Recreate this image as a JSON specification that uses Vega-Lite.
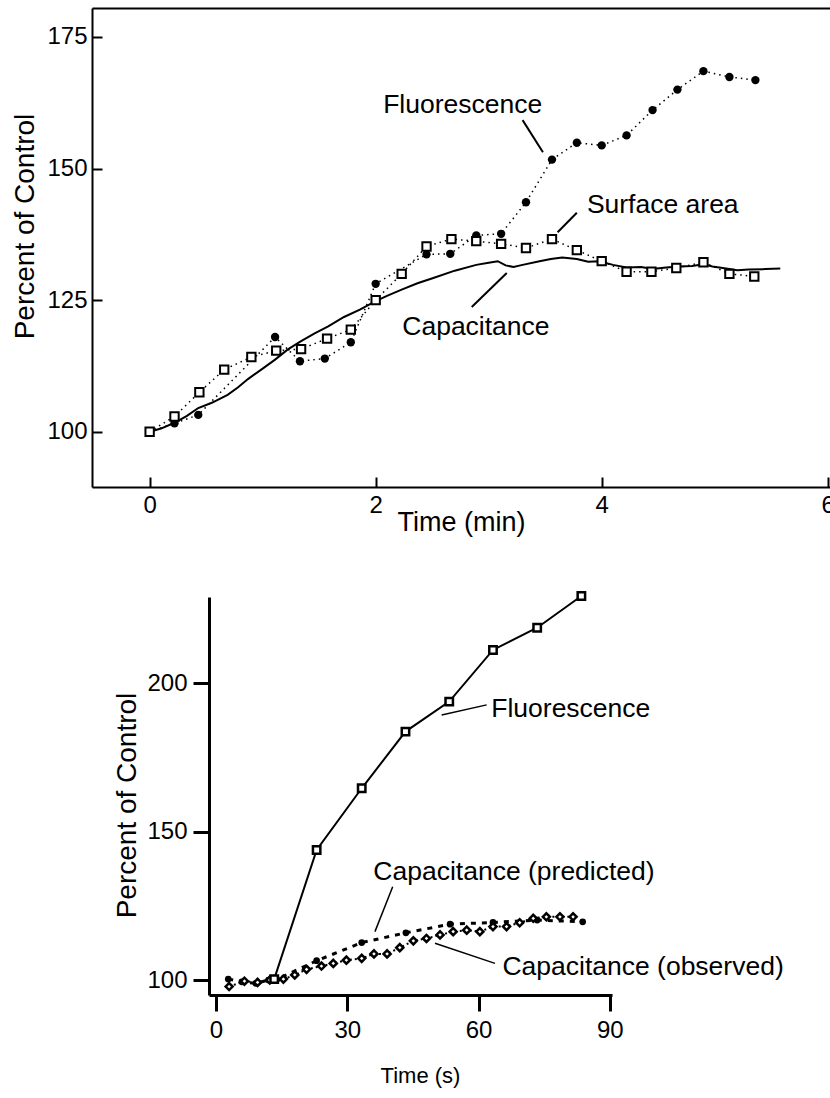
{
  "$schema": "https://vega.github.io/schema/vega-lite/v6.json",
  "width": 830,
  "height": 1098,
  "autosize": "none",
  "padding": 0,
  "background": "white",
  "config": {
    "view": {"stroke": null},
    "font": "Liberation Sans",
    "axis": {
      "grid": false,
      "domainColor": "black",
      "tickColor": "black",
      "labelColor": "black",
      "titleColor": "black",
      "labelFont": "Liberation Sans",
      "titleFont": "Liberation Sans",
      "titleFontWeight": "normal",
      "labelFontSize": 24,
      "labelFlush": false,
      "labelOverlap": false,
      "titleAlign": "center",
      "titleBaseline": "alphabetic"
    },
    "text": {"font": "Liberation Sans", "fontSize": 26.5, "color": "black"}
  },
  "datasets": {
    "topCap": [
      {"t": 0, "v": 100}, {"t": 0.1, "v": 100.6}, {"t": 0.22, "v": 101.7}, {"t": 0.33, "v": 103}, {"t": 0.43, "v": 104.5},
      {"t": 0.55, "v": 105.5}, {"t": 0.69, "v": 107}, {"t": 0.78, "v": 108.4}, {"t": 0.87, "v": 110}, {"t": 1.0, "v": 112},
      {"t": 1.11, "v": 113.7}, {"t": 1.22, "v": 115.6}, {"t": 1.34, "v": 117.2}, {"t": 1.46, "v": 118.7}, {"t": 1.58, "v": 120},
      {"t": 1.72, "v": 121.8}, {"t": 1.86, "v": 123.2}, {"t": 2.0, "v": 124.8}, {"t": 2.1, "v": 125.8}, {"t": 2.23, "v": 127},
      {"t": 2.37, "v": 128.2}, {"t": 2.51, "v": 129.2}, {"t": 2.7, "v": 130.6}, {"t": 2.89, "v": 131.7}, {"t": 3.0, "v": 132.1},
      {"t": 3.08, "v": 132.4}, {"t": 3.15, "v": 131.6}, {"t": 3.22, "v": 131.3}, {"t": 3.3, "v": 131.7}, {"t": 3.45, "v": 132.4},
      {"t": 3.55, "v": 132.8}, {"t": 3.65, "v": 133.1}, {"t": 3.78, "v": 132.8}, {"t": 3.88, "v": 132.3}, {"t": 3.98, "v": 132.4},
      {"t": 4.1, "v": 131.7}, {"t": 4.22, "v": 131.2}, {"t": 4.35, "v": 131.3}, {"t": 4.45, "v": 130.9}, {"t": 4.57, "v": 131.2},
      {"t": 4.69, "v": 131.4}, {"t": 4.8, "v": 131.5}, {"t": 4.9, "v": 131.8}, {"t": 4.98, "v": 131.4}, {"t": 5.1, "v": 131.0},
      {"t": 5.2, "v": 130.7}, {"t": 5.3, "v": 130.8}, {"t": 5.45, "v": 130.9}, {"t": 5.58, "v": 131.0}
    ],
    "topSurf": [
      {"t": 0, "v": 100}, {"t": 0.22, "v": 102.9}, {"t": 0.44, "v": 107.5}, {"t": 0.66, "v": 111.8}, {"t": 0.9, "v": 114.2},
      {"t": 1.12, "v": 115.4}, {"t": 1.34, "v": 115.7}, {"t": 1.57, "v": 117.7}, {"t": 1.78, "v": 119.4}, {"t": 2.0, "v": 125},
      {"t": 2.23, "v": 130}, {"t": 2.45, "v": 135.2}, {"t": 2.67, "v": 136.6}, {"t": 2.89, "v": 136.2}, {"t": 3.11, "v": 135.7},
      {"t": 3.33, "v": 134.9}, {"t": 3.56, "v": 136.6}, {"t": 3.78, "v": 134.5}, {"t": 4.0, "v": 132.4}, {"t": 4.22, "v": 130.4},
      {"t": 4.44, "v": 130.4}, {"t": 4.66, "v": 131.1}, {"t": 4.9, "v": 132.2}, {"t": 5.13, "v": 130.0}, {"t": 5.35, "v": 129.5}
    ],
    "topFluor": [
      {"t": 0, "v": 100}, {"t": 0.22, "v": 101.6}, {"t": 0.43, "v": 103.2}, {"t": 1.11, "v": 118}, {"t": 1.33, "v": 113.4},
      {"t": 1.55, "v": 113.9}, {"t": 1.78, "v": 117}, {"t": 2.0, "v": 128.1}, {"t": 2.45, "v": 133.7}, {"t": 2.66, "v": 133.8},
      {"t": 2.89, "v": 137.3}, {"t": 3.11, "v": 137.6}, {"t": 3.33, "v": 143.6}, {"t": 3.56, "v": 151.7}, {"t": 3.78, "v": 154.9},
      {"t": 4.0, "v": 154.4}, {"t": 4.22, "v": 156.3}, {"t": 4.45, "v": 161.1}, {"t": 4.67, "v": 165.0}, {"t": 4.9, "v": 168.5},
      {"t": 5.13, "v": 167.4}, {"t": 5.36, "v": 166.8}
    ],
    "topLabels": [
      {"label": "Fluorescence", "t": 2.77, "v": 160.55},
      {"label": "Surface area", "t": 4.54, "v": 141.5},
      {"label": "Capacitance", "t": 2.887, "v": 118.4}
    ],
    "topLeaders": [
      {"t": 3.30, "v": 159.2, "t2": 3.48, "v2": 153.1},
      {"t": 3.78, "v": 141.6, "t2": 3.61, "v2": 137.9},
      {"t": 3.16, "v": 130.15, "t2": 2.85, "v2": 123.7}
    ],
    "botFluor": [
      {"t": 13.3, "v": 100.3}, {"t": 23.0, "v": 143.8}, {"t": 33.3, "v": 164.6}, {"t": 43.3, "v": 183.7},
      {"t": 53.3, "v": 193.8}, {"t": 63.3, "v": 211.2}, {"t": 73.4, "v": 218.7}, {"t": 83.5, "v": 229.4}
    ],
    "botPred": [
      {"t": 2.8, "v": 100.3}, {"t": 5.9, "v": 99.4}, {"t": 9.1, "v": 98.9}, {"t": 12.0, "v": 100}, {"t": 13.9, "v": 100.2},
      {"t": 23.0, "v": 106.5}, {"t": 33.3, "v": 112.6}, {"t": 43.4, "v": 115.9}, {"t": 53.5, "v": 118.8},
      {"t": 63.3, "v": 119.4}, {"t": 73.4, "v": 120.2}, {"t": 83.8, "v": 119.6}
    ],
    "botObs": [
      {"t": 3.0, "v": 97.8}, {"t": 6.5, "v": 99.6}, {"t": 9.5, "v": 99.2}, {"t": 12.3, "v": 100}, {"t": 15.4, "v": 100.3},
      {"t": 18.0, "v": 101.7}, {"t": 20.7, "v": 103.6}, {"t": 24.1, "v": 104.7}, {"t": 26.8, "v": 105.6}, {"t": 29.8, "v": 106.7},
      {"t": 33.3, "v": 107.3}, {"t": 36.1, "v": 108.8}, {"t": 39.1, "v": 108.8}, {"t": 42.0, "v": 110.9}, {"t": 45.1, "v": 113.2},
      {"t": 48.1, "v": 114.0}, {"t": 51.2, "v": 115.2}, {"t": 54.2, "v": 116.3}, {"t": 57.3, "v": 116.8}, {"t": 60.3, "v": 116.3},
      {"t": 63.3, "v": 118.0}, {"t": 66.4, "v": 118.0}, {"t": 69.4, "v": 119.3}, {"t": 72.5, "v": 120.8}, {"t": 75.5, "v": 121.3},
      {"t": 78.6, "v": 121.3}, {"t": 81.6, "v": 121.3}
    ],
    "botLabels": [
      {"label": "Fluorescence", "t": 81.08, "v": 188.7},
      {"label": "Capacitance (predicted)", "t": 68.1, "v": 133.7},
      {"label": "Capacitance (observed)", "t": 97.6, "v": 101.7}
    ],
    "botLeaders": [
      {"t": 51.57, "v": 189.3, "t2": 61.86, "v2": 192.7},
      {"t": 40.38, "v": 131.4, "t2": 36.33, "v2": 116.3},
      {"t": 50.05, "v": 112.4, "t2": 63.76, "v2": 105.6}
    ]
  },
  "layer": [
    {
      "encoding": {
        "x": {
          "field": "t", "type": "quantitative",
          "scale": {"domain": [-0.51, 6.02], "range": [92, 830], "nice": false, "zero": false},
          "axis": {
            "orient": "bottom", "offset": -611, "values": [0, 2, 4, 6], "ticks": true, "tickSize": 0,
            "domainWidth": 2, "labelPadding": 6, "title": "Time (min)", "titleFontSize": 27,
            "titleX": 461, "titleY": 43
          }
        },
        "y": {
          "field": "v", "type": "quantitative",
          "scale": {"domain": [89.5, 180.5], "range": [487, 8], "nice": false, "zero": false},
          "axis": {
            "orient": "left", "offset": -92, "values": [100, 125, 150, 175], "ticks": true, "tickSize": 0,
            "domainWidth": 2, "labelPadding": 5, "title": "Percent of Control", "titleFontSize": 28,
            "titleX": -59, "titleY": 226
          }
        }
      },
      "layer": [
        {
          "data": {"name": "topCap"},
          "mark": {"type": "line", "color": "black", "strokeWidth": 2}
        },
        {
          "data": {"name": "topSurf"},
          "mark": {"type": "line", "color": "black", "strokeWidth": 1.5, "strokeDash": [1.5, 4]}
        },
        {
          "data": {"name": "topFluor"},
          "mark": {"type": "line", "color": "black", "strokeWidth": 1.5, "strokeDash": [1.5, 4]}
        },
        {
          "data": {"name": "topFluor"},
          "mark": {"type": "point", "shape": "circle", "filled": true, "color": "black", "size": 70, "opacity": 1}
        },
        {
          "data": {"name": "topSurf"},
          "mark": {"type": "point", "shape": "square", "filled": true, "fill": "white", "stroke": "black", "strokeWidth": 2, "size": 70, "opacity": 1}
        },
        {
          "data": {"name": "topLeaders"},
          "mark": {"type": "rule", "color": "black", "strokeWidth": 2},
          "encoding": {"x2": {"field": "t2"}, "y2": {"field": "v2"}}
        },
        {
          "data": {"name": "topLabels"},
          "mark": {"type": "text", "align": "center", "baseline": "alphabetic", "fontSize": 26.5},
          "encoding": {"text": {"field": "label"}}
        }
      ]
    },
    {
      "data": {"name": "topSurf"},
      "mark": {"type": "point", "opacity": 0},
      "encoding": {
        "x": {
          "field": "t", "type": "quantitative",
          "scale": {"domain": [-0.51, 6.02], "range": [92, 830], "nice": false, "zero": false},
          "axis": {"orient": "top", "offset": -8, "ticks": false, "labels": false, "domain": true, "domainWidth": 2, "title": null}
        },
        "y": {
          "field": "v", "type": "quantitative",
          "scale": {"domain": [89.5, 180.5], "range": [487, 8], "nice": false, "zero": false},
          "axis": {"orient": "right", "offset": -738, "values": [100, 125, 150, 175], "domain": false, "labels": false, "tickSize": 10, "tickWidth": 2, "title": null}
        }
      }
    },
    {
      "data": {"name": "topSurf"},
      "mark": {"type": "point", "opacity": 0},
      "encoding": {
        "x": {
          "field": "t", "type": "quantitative",
          "scale": {"domain": [-0.51, 6.02], "range": [92, 830], "nice": false, "zero": false},
          "axis": {"orient": "top", "offset": -487, "values": [0, 2, 4, 6], "domain": false, "labels": false, "tickSize": 10, "tickWidth": 2, "title": null}
        },
        "y": {
          "field": "v", "type": "quantitative",
          "scale": {"domain": [89.5, 180.5], "range": [487, 8], "nice": false, "zero": false},
          "axis": null
        }
      }
    },
    {
      "encoding": {
        "x": {
          "field": "t", "type": "quantitative",
          "scale": {"domain": [-1.6, 90.5], "range": [209, 612], "nice": false, "zero": false},
          "axis": {
            "orient": "bottom", "offset": -103, "values": [0, 30, 60, 90], "tickSize": 16, "tickWidth": 3,
            "domainWidth": 3, "labelPadding": 7, "title": "Time (s)", "titleFontSize": 22,
            "titleX": 420, "titleY": 87
          }
        },
        "y": {
          "field": "v", "type": "quantitative",
          "scale": {"domain": [94.95, 229.05], "range": [995, 597], "nice": false, "zero": false},
          "axis": {
            "orient": "left", "offset": -209, "values": [100, 150, 200], "tickSize": 16, "tickWidth": 3,
            "domainWidth": 3, "labelPadding": 6, "title": "Percent of Control", "titleFontSize": 28,
            "titleX": -74, "titleY": 805
          }
        }
      },
      "layer": [
        {
          "data": {"name": "botFluor"},
          "mark": {"type": "line", "color": "black", "strokeWidth": 2}
        },
        {
          "data": {"name": "botPred"},
          "mark": {"type": "line", "color": "black", "strokeWidth": 3, "strokeDash": [5, 6]}
        },
        {
          "data": {"name": "botObs"},
          "mark": {"type": "line", "color": "black", "strokeWidth": 2, "strokeDash": [2, 3]}
        },
        {
          "data": {"name": "botPred"},
          "mark": {"type": "point", "shape": "circle", "filled": true, "color": "black", "size": 45, "opacity": 1}
        },
        {
          "data": {"name": "botObs"},
          "mark": {"type": "point", "shape": "diamond", "filled": true, "fill": "white", "stroke": "black", "strokeWidth": 2.5, "size": 50, "opacity": 1}
        },
        {
          "data": {"name": "botFluor"},
          "mark": {"type": "point", "shape": "square", "filled": true, "fill": "white", "stroke": "black", "strokeWidth": 2.5, "size": 55, "opacity": 1}
        },
        {
          "data": {"name": "botLeaders"},
          "mark": {"type": "rule", "color": "black", "strokeWidth": 1.5},
          "encoding": {"x2": {"field": "t2"}, "y2": {"field": "v2"}}
        },
        {
          "data": {"name": "botLabels"},
          "mark": {"type": "text", "align": "center", "baseline": "alphabetic", "fontSize": 26.5},
          "encoding": {"text": {"field": "label"}}
        }
      ]
    }
  ],
  "resolve": {
    "scale": {"x": "independent", "y": "independent"},
    "axis": {"x": "independent", "y": "independent"}
  }
}
